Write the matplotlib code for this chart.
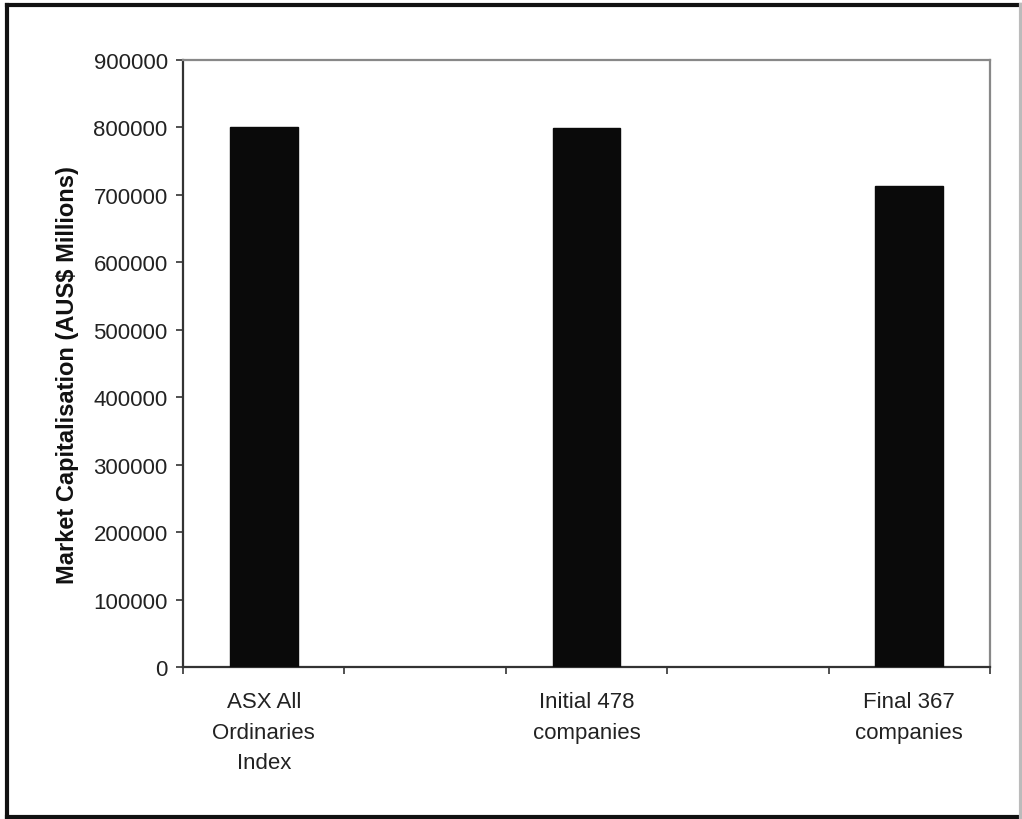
import numpy as np
import matplotlib
matplotlib.use("Agg")
import matplotlib.pyplot as plt
from matplotlib.lines import Line2D

plt.rcParams['font.family'] = ['Liberation Sans', 'DejaVu Sans']

categories = ["ASX All\nOrdinaries\nIndex", "Initial 478\ncompanies", "Final 367\ncompanies"]
market_cap = [800000, 799000, 713000]
yticks = [0, 100000, 200000, 300000, 400000, 500000, 600000, 700000, 800000, 900000]

W, H = 1022, 820
fig = plt.figure(figsize=(W / 100, H / 100), dpi=100)
fig.patch.set_facecolor("white")

# outer chart frame: dark on top, left and bottom, faint on the right
x0, x1 = 7 / W, 1021 / W
y0, y1 = 2 / H, 814 / H
for xs, ys, col in [((x0, x1), (y1, y1), "#111111"),
                    ((x0, x0), (y0, y1), "#111111"),
                    ((x0, x1), (y0, y0), "#111111"),
                    ((x1, x1), (y0, y1), "#bbbbbb")]:
    fig.add_artist(Line2D(xs, ys, transform=fig.transFigure, color=col,
                          linewidth=3.0, solid_capstyle="projecting"))

ax = fig.add_axes([183 / W, (H - 668) / H, (990 - 183) / W, (668 - 61) / H])

# each category occupies every other slot on the axis
slots = np.arange(len(categories)) * 2
ax.bar(slots, market_cap, width=0.42, color="#0a0a0a", edgecolor="#0a0a0a", zorder=3)

ax.set_xlim(-0.5, slots[-1] + 0.5)
ax.set_ylim(0, 900000)
ax.set_yticks(yticks)
ax.set_yticklabels([str(v) for v in yticks], fontsize=16, color="#222222")

# boundary ticks between slots, labels centred under the bars
ax.set_xticks(np.arange(-0.5, slots[-1] + 1.0, 1.0))
ax.set_xticklabels([])
ax.set_xticks(slots, minor=True)
ax.set_xticklabels(categories, minor=True, fontsize=16, color="#222222", linespacing=1.62, va="top")
ax.tick_params(axis="x", which="minor", length=0, pad=17)
ax.tick_params(axis="x", which="major", length=5, width=1.2, color="#333333", direction="out")
ax.tick_params(axis="y", length=5, width=1.2, color="#333333", direction="out", pad=6)

ax.set_ylabel("Market Capitalisation (AUS$ Millions)", fontsize=17, fontweight="bold",
              color="#111111")
ax.yaxis.set_label_coords(-0.129, 0.483)

for side in ("left", "bottom"):
    ax.spines[side].set_color("#333333")
    ax.spines[side].set_linewidth(1.6)
for side in ("top", "right"):
    ax.spines[side].set_color("#888888")
    ax.spines[side].set_linewidth(1.6)

fig.savefig("out.png", dpi=100, facecolor="white")
